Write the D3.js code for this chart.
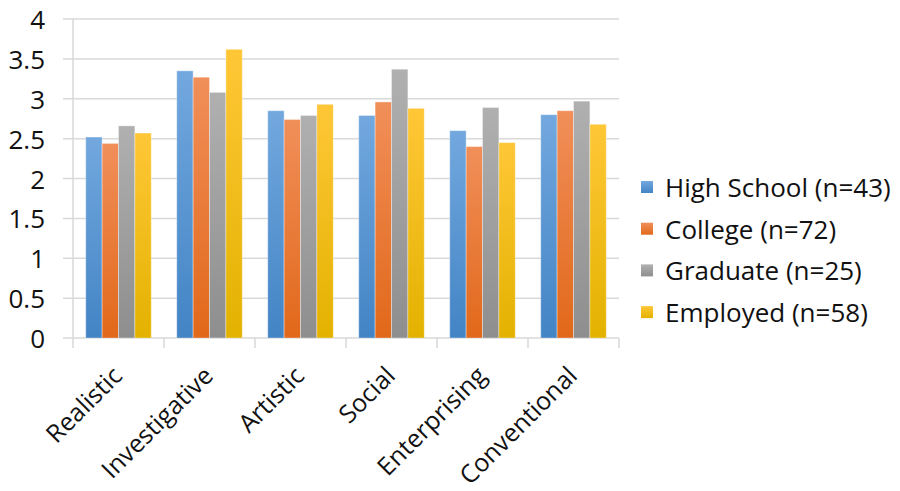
<!DOCTYPE html>
<html>
<head>
<meta charset="utf-8">
<script src="https://cdn.jsdelivr.net/npm/d3@7/dist/d3.min.js"></script>
<style>
  html, body { margin: 0; padding: 0; background: #fff; }
  svg { display: block; font-family: "Open Sans", sans-serif; }
</style>
</head>
<body>
<svg id="chart" width="900" height="491"></svg>
<script>
// RIASEC interest scores by group
const categories = ["Realistic", "Investigative", "Artistic", "Social", "Enterprising", "Conventional"];
const seriesNames = ["High School (n=43)", "College (n=72)", "Graduate (n=25)", "Employed (n=58)"];
const highSchool = [2.52, 3.35, 2.85, 2.79, 2.60, 2.80];
const college    = [2.44, 3.27, 2.74, 2.96, 2.40, 2.85];
const graduate   = [2.66, 3.08, 2.79, 3.37, 2.89, 2.97];
const employed   = [2.57, 3.62, 2.93, 2.88, 2.45, 2.68];
const yTicks = [0, 0.5, 1, 1.5, 2, 2.5, 3, 3.5, 4];

const seriesValues = [highSchool, college, graduate, employed];
// top / bottom shades for each series' vertical gradient
const shades = [
  ["#72a8de", "#4384c5"],
  ["#f18f5a", "#e1681a"],
  ["#b0b0b0", "#8e8e8e"],
  ["#ffc737", "#e3b200"]
];

const svg = d3.select("#chart");
const plot = { left: 73, right: 619, top: 19, bottom: 338 };

const defs = svg.append("defs");
shades.forEach((s, i) => {
  const g = defs.append("linearGradient")
    .attr("id", "grad" + i)
    .attr("x1", 0).attr("y1", 0).attr("x2", 0).attr("y2", 1);
  g.append("stop").attr("offset", "0%").attr("stop-color", s[0]);
  g.append("stop").attr("offset", "100%").attr("stop-color", s[1]);
});

const y = d3.scaleLinear().domain([0, 4]).range([plot.bottom, plot.top]);
const x0 = d3.scaleBand().domain(categories)
  .range([plot.left, plot.right]).paddingInner(0.28).paddingOuter(0.14);
const x1 = d3.scaleBand().domain(d3.range(seriesNames.length))
  .range([0, x0.bandwidth()]);

// horizontal gridlines (extending left as tick marks)
svg.append("g").selectAll("line").data(yTicks).join("line")
  .attr("x1", plot.left - 10).attr("x2", plot.right)
  .attr("y1", d => y(d)).attr("y2", d => y(d))
  .attr("stroke", "#d9d9d9").attr("stroke-width", 1.5);

// vertical axis line
svg.append("line")
  .attr("x1", plot.left).attr("x2", plot.left)
  .attr("y1", plot.top).attr("y2", plot.bottom)
  .attr("stroke", "#d9d9d9").attr("stroke-width", 1.5);

// category tick marks below the baseline
const step = x0.step();
const boundaries = d3.range(categories.length + 1).map(i => plot.left + i * step);
svg.append("g").selectAll("line").data(boundaries).join("line")
  .attr("x1", d => d).attr("x2", d => d)
  .attr("y1", plot.bottom).attr("y2", plot.bottom + 10)
  .attr("stroke", "#d9d9d9").attr("stroke-width", 1.5);

// y tick labels
svg.append("g").selectAll("text").data(yTicks).join("text")
  .attr("x", 45).attr("y", d => y(d))
  .attr("text-anchor", "end").attr("dominant-baseline", "central")
  .attr("font-size", 26).attr("fill", "#111")
  .text(d => d3.format("~g")(d));

// bars
const groups = svg.append("g").selectAll("g").data(categories).join("g")
  .attr("transform", c => `translate(${x0(c)},0)`);
groups.selectAll("rect")
  .data((c, ci) => seriesValues.map((vals, si) => ({ si, v: vals[ci] })))
  .join("rect")
  .attr("x", d => x1(d.si))
  .attr("width", x1.bandwidth())
  .attr("y", d => y(d.v))
  .attr("height", d => y(0) - y(d.v))
  .attr("fill", d => `url(#grad${d.si})`)
  .attr("stroke", "rgba(255,255,255,0.35)").attr("stroke-width", 1);

// rotated category labels
svg.append("g").selectAll("text").data(categories).join("text")
  .attr("transform", c => `translate(${x0(c) + x0.bandwidth() / 2 - 8},364) rotate(-45)`)
  .attr("text-anchor", "end").attr("dy", "0.75em")
  .attr("font-size", 25).attr("fill", "#111")
  .text(c => c);

// legend
const legend = svg.append("g").selectAll("g").data(seriesNames).join("g")
  .attr("transform", (d, i) => `translate(641,${187 + i * 41.7})`);
legend.append("rect")
  .attr("x", 0).attr("y", -6).attr("width", 12).attr("height", 12)
  .attr("fill", (d, i) => `url(#grad${i})`);
legend.append("text")
  .attr("x", 24).attr("y", 0).attr("dominant-baseline", "central")
  .attr("font-size", 26).attr("fill", "#111")
  .text(d => d);
</script>
</body>
</html>
